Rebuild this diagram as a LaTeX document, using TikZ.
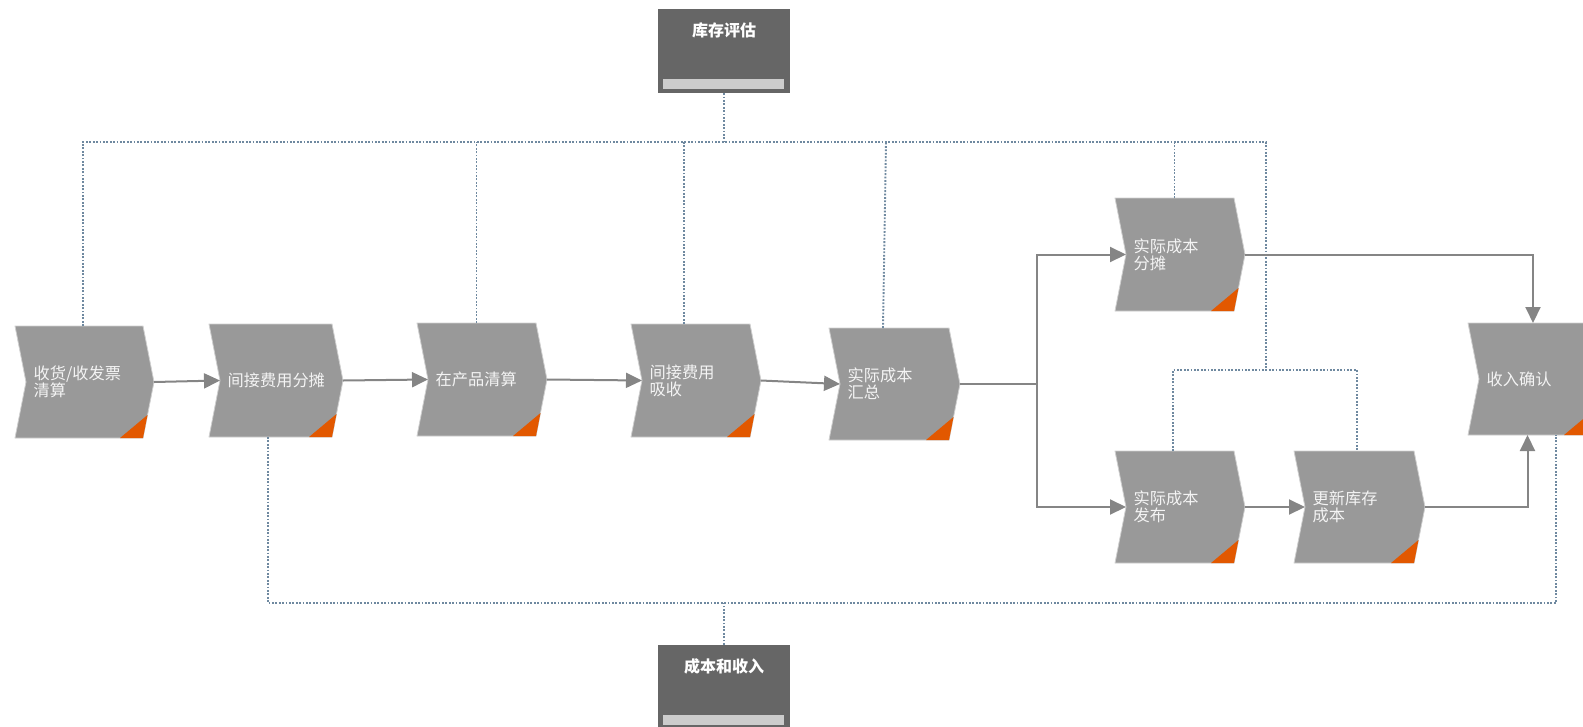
\documentclass[tikz,border=0pt]{standalone}
\usepackage{fontspec}
\newfontfamily\cjk{Noto Sans CJK SC}
\usetikzlibrary{arrows.meta}
\definecolor{stepgray}{HTML}{999999}
\definecolor{stepedge}{HTML}{CFCFCF}
\definecolor{cornerorange}{RGB}{226,88,0}
\definecolor{labelwhite}{HTML}{F4F4F4}
\definecolor{flowgray}{HTML}{858585}
\definecolor{assocblue}{HTML}{6F89A0}
\definecolor{boxdark}{HTML}{666666}
\definecolor{barlight}{HTML}{CCCCCC}
\tikzset{
  stepfill/.style={fill=stepgray, draw=stepedge, line width=0.8pt},
  cornerfill/.style={fill=cornerorange},
  stepbody/.style={inner sep=0pt, outer sep=0pt},
  steplabel/.style={anchor=west, inner sep=0pt, text=labelwhite, align=left,
    font=\cjk\fontsize{16.2}{17}\selectfont},
  flow/.style={draw=flowgray, line width=2pt, -{Triangle[length=16pt,width=15pt]}},
  flowline/.style={draw=flowgray, line width=2pt},
  assoc/.style={draw=assocblue, line width=1.9pt, dash pattern=on 1.8pt off 1.6pt},
  darkbox/.style={fill=boxdark, minimum width=132pt, minimum height=84pt, inner sep=0pt},
  boxlabel/.style={text=white, font=\cjk\bfseries\fontsize{16}{18}\selectfont, inner sep=0pt},
  barfill/.style={fill=barlight}
}
\newcommand\procstep[6]{%
  \pgfmathsetmacro\ymid{(#3+#5)/2}%
  \path[stepfill] (#2,#3) -- (#4,#3) -- (#4+11,\ymid) -- (#4,#5) -- (#2,#5) -- (#2+11,\ymid) -- cycle;
  \path[cornerfill] (#4-23,#5) -- (#4,#5) -- (#4+4.5,#5-23) -- cycle;
  \node[stepbody, minimum width={(#4-#2)*1pt}, minimum height={(#5-#3)*1pt}] (#1) at ({(#2+#4)/2},\ymid) {};
  \coordinate (#1in) at (#2+11,\ymid);
  \coordinate (#1out) at (#4+11,\ymid);
  \node[steplabel] (#1label) at (#2+18.5,\ymid) {#6};
}
\begin{document}
\begin{tikzpicture}[x=1pt,y=-1pt]
\useasboundingbox (0,0) rectangle (1583,726);

% dotted association lines
\coordinate (busL) at (83,142);
\coordinate (busR) at (1266,142);
\coordinate (midbus) at (1266,370);
\coordinate (busB) at (723,603);

% boxes
\node[darkbox] (tb) at (724,51) {};
\path[barfill] (663,79) rectangle (784,89);
\node[boxlabel] (tblabel) at (724,30) {库存评估};
\node[darkbox] (bb) at (724,687) {};
\path[barfill] (663,715) rectangle (784,725);
\node[boxlabel] (bblabel) at (724,666) {成本和收入};

% steps
\procstep{n1}{15}{326}{143}{438}{收货/收发票\\清算}
\procstep{n2}{209}{324}{332}{437}{间接费用分摊}
\procstep{n3}{417}{323}{536}{436}{在产品清算}
\procstep{n4}{631}{324}{750}{437}{间接费用\\吸收}
\procstep{n5}{829}{328}{949}{440}{实际成本\\汇总}
\procstep{n6}{1115}{198}{1234}{311}{实际成本\\分摊}
\procstep{n7}{1115}{451}{1234}{563}{实际成本\\发布}
\procstep{n8}{1294}{451}{1414}{563}{更新库存\\成本}
\procstep{n9}{1468}{323}{1587}{435}{收入确认}

\draw[assoc] (tb.south) -- (tb.south |- busL);
\draw[assoc] (busL |- n1.north) -- (busL) -- (busR) -- (midbus);
\draw[assoc] (n3.north) -- (n3.north |- busL);
\draw[assoc] ([xshift=-6.5pt]n4.north) -- ([xshift=-6.5pt]n4.north |- busL);
\draw[assoc] ([xshift=-6pt]n5.north) -- ([xshift=-3pt]n5.north |- busL);
\draw[assoc] (n6.north) -- (n6.north |- busL);
\draw[assoc] ([xshift=-1.5pt]n7.north) |- ([xshift=3pt]n8.north |- midbus) -- ([xshift=3pt]n8.north);
\draw[assoc] ([xshift=-2.5pt]n2.south) |- ([xshift=28.5pt]n9.south |- busB) -- ([xshift=28.5pt]n9.south);
\draw[assoc] (bb.north) -- (bb.north |- busB);

% flow connectors
\draw[flow] (n1out) -- (n2in);
\draw[flow] (n2out) -- (n3in);
\draw[flow] (n3out) -- (n4in);
\draw[flow] (n4out) -- (n5in);
\coordinate (split) at (1037,384);
\draw[flowline] (n5out) -- (split);
\draw[flow] (split) |- (n6in);
\draw[flow] (split) |- (n7in);
\draw[flow] (n6out) -| ([xshift=5.5pt]n9.north);
\draw[flow] (n7out) -- (n8in);
\draw[flow] (n8out) -| (n9.south);
\end{tikzpicture}
\end{document}
